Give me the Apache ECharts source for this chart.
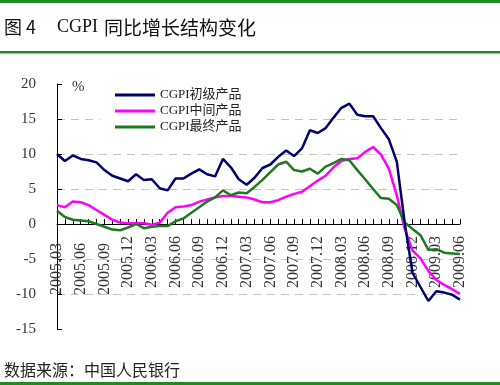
<!DOCTYPE html>
<html>
<head>
<meta charset="utf-8">
<script src="https://cdn.jsdelivr.net/npm/echarts@6/dist/echarts.min.js"></script>
<style>html,body{margin:0;padding:0;background:#fff;}#c{width:500px;height:385px;}</style>
</head>
<body>
<div id="c"></div>
<script>
var categories = [
 "2005.03","2005.04","2005.05","2005.06","2005.07","2005.08","2005.09","2005.10","2005.11","2005.12",
 "2006.01","2006.02","2006.03","2006.04","2006.05","2006.06","2006.07","2006.08","2006.09","2006.10","2006.11","2006.12",
 "2007.01","2007.02","2007.03","2007.04","2007.05","2007.06","2007.07","2007.08","2007.09","2007.10","2007.11","2007.12",
 "2008.01","2008.02","2008.03","2008.04","2008.05","2008.06","2008.07","2008.08","2008.09","2008.10","2008.11","2008.12",
 "2009.01","2009.02","2009.03","2009.04","2009.05","2009.06"
];
var seriesNames = ["CGPI初级产品", "CGPI中间产品", "CGPI最终产品"];
var primary = [10.0,9.0,9.8,9.3,9.1,8.8,7.7,6.9,6.5,6.1,
 7.1,6.3,6.4,5.1,4.8,6.5,6.5,7.2,7.8,7.1,
 6.8,9.3,8.1,6.4,5.6,6.6,8.0,8.5,9.6,10.5,
 9.7,10.8,13.4,13.0,13.7,15.2,16.6,17.2,15.6,15.4,
 15.4,13.7,12.1,8.9,0.2,-7.0,-9.0,-11.0,-9.6,-9.8,
 -10.1,-10.8];
var intermediate = [2.7,2.4,3.2,3.1,2.7,2.0,1.3,0.6,0.2,0.1,
 0.1,0.1,-0.1,0.2,1.6,2.4,2.5,2.7,3.2,3.5,
 3.8,4.0,4.0,3.9,3.8,3.5,3.1,3.1,3.4,3.9,
 4.3,4.6,5.4,6.2,6.9,8.1,9.0,9.3,9.4,10.3,
 11.0,9.9,7.9,4.1,-0.7,-3.8,-4.9,-6.7,-8.0,-8.7,
 -9.3,-10.0];
var finalGoods = [1.9,1.0,0.6,0.5,0.4,0.0,-0.4,-0.8,-0.9,-0.5,
 0.0,-0.6,-0.4,-0.3,-0.3,0.4,0.8,1.6,2.4,3.2,
 3.8,4.8,4.1,4.5,4.4,5.3,6.3,7.4,8.5,8.9,
 7.7,7.5,7.9,7.2,8.2,8.7,9.3,9.1,7.7,6.4,
 5.0,3.7,3.6,2.7,0.2,-0.7,-1.6,-3.7,-3.6,-4.1,
 -4.2,-4.3];
var yMin = -15, yMax = 20, yStep = 5;
var titleParts = ["图 4", "CGPI", "同比增长结构变化"];
var unitText = "%";
var sourceText = "数据来源：中国人民银行";

var SERIF = "'Liberation Serif','Noto Sans CJK SC',serif";
var CJK = "'Noto Sans CJK SC','Liberation Serif',sans-serif";
var RULE = '#1f8a1f';
var colors = ['#00006e', '#ff00ff', '#1f7a1f'];

var gridTop = 84, gridBottom = 56, H = 385;
var plotH = H - gridTop - gridBottom;
// move the category axis (line, ticks, labels) up to the value 0
var zeroOffset = -plotH * (0 - yMin) / (yMax - yMin);

var chart = echarts.init(document.getElementById('c'), null, {renderer: 'canvas'});
var option = {
  backgroundColor: '#fff',
  animation: false,
  grid: {left: 57, right: 40, top: gridTop, bottom: gridBottom, containLabel: false, outerBoundsMode: 'none'},
  legend: {
    orient: 'vertical', left: 100, top: 84,
    padding: [4, 24, 6, 15],
    backgroundColor: '#fff',
    icon: 'rect',
    itemWidth: 40, itemHeight: 3, itemGap: 2,
    textStyle: {fontFamily: SERIF, fontSize: 13, color: '#222', lineHeight: 14},
    data: seriesNames
  },
  xAxis: {
    type: 'category', data: categories, boundaryGap: false,
    offset: zeroOffset,
    axisLine: {onZero: false, lineStyle: {color: '#000', width: 1}},
    axisTick: {show: true, inside: true, length: 5, interval: 0, lineStyle: {color: '#000'}},
    axisLabel: {
      interval: 2, rotate: 90, margin: 12,
      fontFamily: SERIF, fontSize: 16, color: '#333',
      formatter: function (v, i) { return i < 7 ? '{s|' + v + '}' : v; },
      rich: {s: {padding: [0, 7, 0, 0], fontFamily: SERIF, fontSize: 16, color: '#333'}}
    },
    splitLine: {show: false}
  },
  yAxis: {
    type: 'value', min: yMin, max: yMax, interval: yStep,
    axisLine: {show: true, onZero: false, lineStyle: {color: '#000', width: 1}},
    axisTick: {show: true, inside: true, length: 5, lineStyle: {color: '#000'}},
    axisLabel: {margin: 21, fontFamily: SERIF, fontSize: 15, color: '#333'},
    splitLine: {show: true, showMinLine: false, showMaxLine: false,
      lineStyle: {color: '#c4c4c4', type: [8, 6], width: 1}}
  },
  series: [
    {name: seriesNames[0], type: 'line', data: primary, symbol: 'none', lineStyle: {width: 2.5, color: colors[0]}, itemStyle: {color: colors[0]}, z: 3},
    {name: seriesNames[1], type: 'line', data: intermediate, symbol: 'none', lineStyle: {width: 2.5, color: colors[1]}, itemStyle: {color: colors[1]}, z: 2},
    {name: seriesNames[2], type: 'line', data: finalGoods, symbol: 'none', lineStyle: {width: 2.5, color: colors[2]}, itemStyle: {color: colors[2]}, z: 2}
  ],
  graphic: [
    {type: 'rect', shape: {x: 0, y: 0, width: 500, height: 3}, style: {fill: RULE}},
    {type: 'rect', shape: {x: 0, y: 51, width: 500, height: 2.5}, style: {fill: RULE}},
    {type: 'rect', shape: {x: 0, y: 382, width: 500, height: 3}, style: {fill: RULE}},
    {type: 'text', left: 4, top: 18, style: {text: titleParts[0], font: '18px ' + CJK, fill: '#111'}},
    {type: 'text', left: 57, top: 18, style: {text: titleParts[1], font: '18px ' + SERIF, fill: '#111'}},
    {type: 'text', left: 104, top: 18, style: {text: titleParts[2], font: '19px ' + CJK, fill: '#111'}},
    {type: 'text', left: 72, top: 80, style: {text: unitText, font: '15px ' + SERIF, fill: '#333'}},
    {type: 'text', left: 4, top: 362, style: {text: sourceText, font: '16px ' + CJK, fill: '#222'}}
  ]
};
chart.setOption(option);
</script>
</body>
</html>
